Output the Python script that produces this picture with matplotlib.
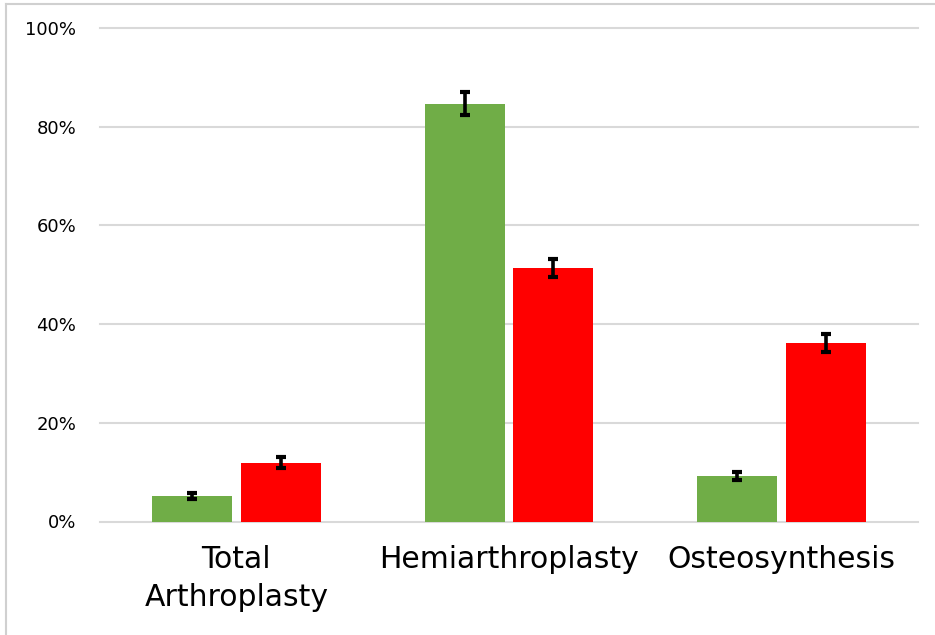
import numpy as np
import matplotlib.pyplot as plt
from matplotlib.ticker import PercentFormatter

# DATA
categories = ['Total\nArthroplasty', 'Hemiarthroplasty', 'Osteosynthesis']
green_vals = [5.1, 84.7, 9.2]
green_err = [0.6, 2.3, 0.8]
red_vals = [11.9, 51.3, 36.2]
red_err = [1.1, 1.8, 1.8]

x = np.arange(len(categories))
width = 0.293
offset = 0.163

fig = plt.figure(figsize=(9.35, 6.35), dpi=100)
ax = fig.add_axes([100 / 935, 1 - 521.5 / 635, 818 / 935, 493.5 / 635])

err_kw = dict(ecolor='black', elinewidth=2.6, capsize=3.5, capthick=3)
ax.bar(x - offset, green_vals, width, color='#70AD47', yerr=green_err,
       error_kw=err_kw, zorder=3)
ax.bar(x + offset, red_vals, width, color='#FF0000', yerr=red_err,
       error_kw=err_kw, zorder=3)

ax.set_xlim(-0.5, 2.5)
ax.set_ylim(0, 100)
ax.set_yticks(np.arange(0, 101, 20))
ax.yaxis.set_major_formatter(PercentFormatter(decimals=0))
ax.set_xticks(x)
ax.set_xticklabels(categories, fontsize=21.5, linespacing=1.4)
ax.tick_params(axis='y', length=0, pad=17, labelsize=13)
ax.tick_params(axis='x', length=0, pad=17)
ax.grid(axis='y', color='#D9D9D9', linewidth=1.5, zorder=0)
for gl in ax.get_ygridlines():
    gl.set_clip_on(False)
for s in ax.spines.values():
    s.set_visible(False)

# outer frame (top and left)
fig.add_artist(plt.Line2D([6 / 935, 6 / 935], [0, 1 - 4 / 635], color='#D0D0D0', linewidth=1.5))
fig.add_artist(plt.Line2D([6 / 935, 1], [1 - 4 / 635, 1 - 4 / 635], color='#D0D0D0', linewidth=1.5))

fig.savefig('out.png', dpi=100)
